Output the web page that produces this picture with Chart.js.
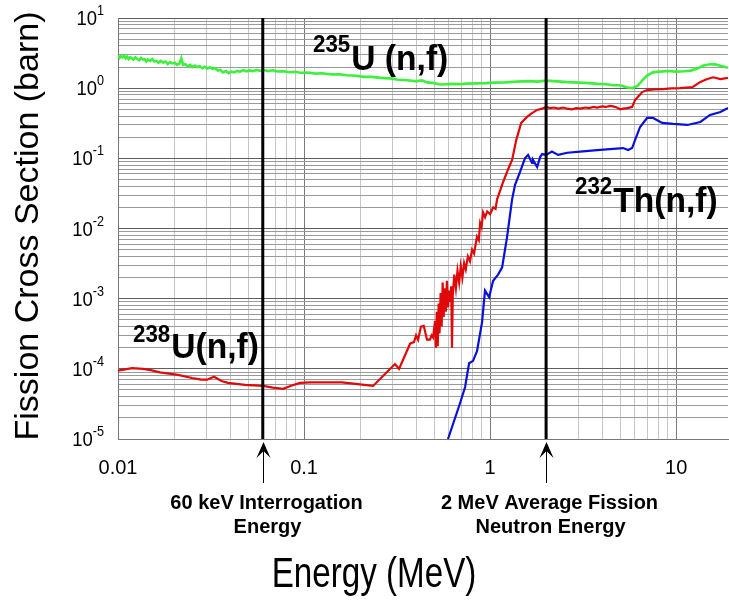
<!DOCTYPE html>
<html>
<head>
<meta charset="utf-8">
<script src="https://cdn.jsdelivr.net/npm/chart.js@4.4.1/dist/chart.umd.min.js"></script>
<style>
  html, body { margin: 0; padding: 0; background: #fff; overflow: hidden; }
  #wrap { width: 729px; height: 602px; }
</style>
</head>
<body>
<div id="wrap"><canvas id="xsChart" width="729" height="602"></canvas></div>
<script>
// axis ranges (MeV, barn)
const xMin = 0.01, xMax = 19;
const yMin = 1e-5, yMax = 10;

const xTickValues = [0.01, 0.1, 1, 10];
const xTickLabels = ["0.01", "0.1", "1", "10"];
const yTickValues = [1e-5, 1e-4, 1e-3, 1e-2, 1e-1, 1, 10];
const yTickExps = ["-5", "-4", "-3", "-2", "-1", "0", "1"];

const markerEnergies = [0.06, 2];
const markerLabels = [["60 keV Interrogation", "Energy"], ["2 MeV Average Fission", "Neutron Energy"]];

// [energy MeV, cross section barn]
const u235Points = [
  [0.0100, 2.95], [0.0102, 2.7], [0.0104, 2.85], [0.0106, 2.75], [0.0108, 2.9], [0.0110, 2.65],
  [0.0112, 2.8], [0.0114, 2.6], [0.0116, 2.75], [0.0118, 2.7], [0.0121, 2.55], [0.0124, 2.75],
  [0.0127, 2.6], [0.0130, 2.5], [0.0133, 2.7], [0.0136, 2.55], [0.0139, 2.6], [0.0142, 2.4],
  [0.0145, 2.55], [0.0149, 2.45], [0.0153, 2.6], [0.0157, 2.4], [0.0161, 2.45], [0.0165, 2.3],
  [0.0170, 2.45], [0.0175, 2.3], [0.0180, 2.4], [0.0185, 2.2], [0.0190, 2.35], [0.0196, 2.25],
  [0.0202, 2.3], [0.0208, 2.15], [0.0214, 2.25], [0.0219, 2.65], [0.0224, 2.15], [0.0230, 2.2],
  [0.0237, 2.05], [0.0244, 2.15], [0.0251, 2.0], [0.0259, 2.1], [0.0267, 2.0], [0.0275, 2.05],
  [0.0284, 1.92], [0.0293, 2.02], [0.0302, 1.9], [0.0312, 1.98], [0.0322, 1.88], [0.0333, 1.92],
  [0.0344, 1.78], [0.0355, 1.82], [0.0367, 1.68], [0.0380, 1.76], [0.0393, 1.64], [0.0407, 1.72],
  [0.0422, 1.68], [0.0437, 1.76], [0.0453, 1.72], [0.0470, 1.8], [0.0490, 1.74], [0.0510, 1.79],
  [0.0530, 1.75], [0.0555, 1.82], [0.0580, 1.77], [0.0610, 1.81], [0.0640, 1.75], [0.0680, 1.8],
  [0.0720, 1.73], [0.0770, 1.75], [0.0830, 1.69], [0.0900, 1.71], [0.0970, 1.65], [0.105, 1.67],
  [0.115, 1.61], [0.125, 1.63], [0.14, 1.57], [0.155, 1.58], [0.17, 1.53], [0.19, 1.5],
  [0.21, 1.45], [0.23, 1.45], [0.26, 1.4], [0.29, 1.38], [0.32, 1.32], [0.36, 1.3],
  [0.40, 1.25], [0.43, 1.29], [0.46, 1.21], [0.50, 1.18], [0.54, 1.13], [0.58, 1.14],
  [0.62, 1.15], [0.68, 1.14], [0.75, 1.16], [0.85, 1.17], [0.95, 1.18], [1.05, 1.2],
  [1.2, 1.21], [1.4, 1.24], [1.6, 1.26], [1.8, 1.24], [2.0, 1.28], [2.3, 1.25],
  [2.6, 1.22], [3.0, 1.2], [3.4, 1.18], [3.8, 1.15], [4.2, 1.14], [4.6, 1.1],
  [5.0, 1.1], [5.4, 1.03], [5.8, 1.0], [6.2, 1.08], [6.6, 1.3], [7.0, 1.52],
  [7.5, 1.68], [8.2, 1.72], [9.0, 1.76], [10, 1.72], [11, 1.74], [12, 1.78],
  [13, 1.9], [14, 2.1], [15, 2.18], [16, 2.2], [17.3, 2.08], [19, 1.95]
];

const u238Points = [
  [0.0100, 9.4e-5], [0.0119, 1.02e-4], [0.0136, 1.0e-4], [0.0150, 9.6e-5], [0.0168, 8.9e-5],
  [0.0210, 8.2e-5], [0.0250, 7.4e-5], [0.0280, 7.0e-5], [0.0301, 7.0e-5], [0.0328, 7.7e-5],
  [0.0360, 6.7e-5], [0.0390, 6.3e-5], [0.0482, 5.9e-5], [0.0602, 5.7e-5], [0.0680, 5.4e-5],
  [0.0771, 5.2e-5], [0.0860, 5.8e-5], [0.0951, 6.3e-5], [0.108, 6.4e-5], [0.160, 6.4e-5],
  [0.235, 5.7e-5], [0.308, 1.17e-4], [0.324, 1.0e-4], [0.372, 2.3e-4], [0.390, 2.4e-4],
  [0.400, 3.0e-4], [0.410, 2.6e-4], [0.425, 4.0e-4], [0.440, 4.1e-4], [0.458, 2.6e-4],
  [0.475, 2.6e-4], [0.485, 3.0e-4], [0.494, 2.8e-4], [0.506, 4.8e-4], [0.511, 2.0e-4],
  [0.517, 6.5e-4], [0.523, 2.1e-4], [0.529, 8.5e-4], [0.535, 3.2e-4], [0.542, 1.2e-3],
  [0.549, 4.0e-4], [0.556, 1.7e-3], [0.563, 5.5e-4], [0.570, 1.4e-3], [0.578, 6.5e-4],
  [0.586, 1.8e-3], [0.594, 7.5e-4], [0.602, 1.3e-3], [0.610, 9.0e-4], [0.618, 1.5e-3],
  [0.624, 2.0e-4], [0.630, 1.1e-3], [0.642, 2.2e-3], [0.655, 1.4e-3], [0.668, 2.5e-3],
  [0.682, 1.7e-3], [0.696, 2.9e-3], [0.710, 2.0e-3], [0.725, 3.2e-3], [0.740, 2.6e-3],
  [0.760, 4.0e-3], [0.780, 3.4e-3], [0.800, 5.0e-3], [0.820, 4.4e-3], [0.850, 7.6e-3],
  [0.870, 6.8e-3], [0.884, 1.2e-2], [0.900, 1.05e-2], [0.917, 1.7e-2], [0.940, 1.45e-2],
  [0.965, 1.75e-2], [1.000, 1.6e-2], [1.040, 2.0e-2], [1.070, 1.9e-2], [1.090, 2.6e-2],
  [1.130, 3.4e-2], [1.175, 4.6e-2], [1.250, 7.0e-2], [1.313, 9.5e-2], [1.380, 0.18],
  [1.470, 0.32], [1.580, 0.39], [1.680, 0.44], [1.790, 0.49], [1.900, 0.51],
  [2.000, 0.54], [2.100, 0.52], [2.200, 0.53], [2.330, 0.51], [2.470, 0.53],
  [2.600, 0.51], [2.750, 0.50], [2.900, 0.52], [3.050, 0.51], [3.250, 0.53],
  [3.400, 0.52], [3.600, 0.54], [3.760, 0.53], [4.000, 0.55], [4.200, 0.54],
  [4.400, 0.56], [4.580, 0.55], [4.800, 0.53], [5.000, 0.50], [5.200, 0.51],
  [5.460, 0.52], [5.800, 0.54], [6.020, 0.68], [6.570, 0.88], [6.980, 0.94],
  [7.600, 0.96], [8.510, 0.97], [9.400, 0.99], [10.50, 1.00], [11.40, 1.02],
  [12.30, 1.04], [13.50, 1.23], [14.60, 1.34], [15.80, 1.43], [17.30, 1.35],
  [19.00, 1.40]
];

const th232Points = [
  [0.594, 1.0e-5], [0.690, 3.26e-5], [0.734, 5.5e-5], [0.771, 1.2e-4], [0.810, 1.3e-4],
  [0.851, 1.8e-4], [0.905, 4.6e-4], [0.939, 1.3e-3], [0.988, 1.05e-3], [1.038, 1.8e-3],
  [1.104, 2.2e-3], [1.161, 2.8e-3], [1.234, 7.6e-3], [1.313, 2.6e-2], [1.362, 4.2e-2],
  [1.449, 6.4e-2], [1.540, 0.100], [1.600, 0.112], [1.680, 0.086], [1.700, 0.095],
  [1.790, 0.075], [1.860, 0.105], [1.905, 0.115], [2.000, 0.112], [2.150, 0.125],
  [2.320, 0.112], [2.600, 0.120], [3.050, 0.125], [3.760, 0.131], [4.580, 0.136],
  [5.190, 0.140], [5.520, 0.131], [5.800, 0.140], [6.020, 0.183], [6.400, 0.280],
  [6.980, 0.376], [7.520, 0.376], [8.410, 0.320], [9.640, 0.309], [11.50, 0.299],
  [13.50, 0.330], [15.20, 0.415], [17.30, 0.457], [19.00, 0.522]
];

const toXY = (pts) => pts.map(([x, y]) => ({ x, y }));

function gridValues(min, max) {
  const out = [];
  for (let p = Math.floor(Math.log10(min)); p <= Math.ceil(Math.log10(max)); p++) {
    for (let m = 1; m <= 9; m++) {
      const v = parseFloat((m * Math.pow(10, p)).toPrecision(6));
      if (v >= min * 0.999 && v <= max * 1.001) out.push(v);
    }
  }
  return out;
}
const isDecade = (v) => Math.abs(Math.log10(v) - Math.round(Math.log10(v))) < 1e-6;

function putText(ctx, str, x, y, font, align, sx) {
  ctx.save();
  ctx.font = font;
  ctx.textAlign = align;
  ctx.textBaseline = "alphabetic";
  ctx.translate(x, y);
  ctx.scale(sx, 1);
  ctx.fillText(str, 0, 0);
  ctx.restore();
}
function textWidth(ctx, str, font, sx) {
  ctx.save();
  ctx.font = font;
  const w = ctx.measureText(str).width * sx;
  ctx.restore();
  return w;
}
// superscript prefix + main text, left aligned
function isotopeLabel(ctx, sup, main, x, yMain, ySup) {
  const supFont = "bold 24px 'Liberation Sans', Arial, sans-serif";
  const mainFont = "bold 35px 'Liberation Sans', Arial, sans-serif";
  putText(ctx, sup, x, ySup, supFont, "left", 0.93);
  const w = textWidth(ctx, sup, supFont, 0.93);
  putText(ctx, main, x + w + 1, yMain, mainFont, "left", 0.96);
}

const textPlugin = {
  id: "textPlugin",
  afterDraw(chart) {
    const ctx = chart.ctx;
    const xs = chart.scales.x, ys = chart.scales.y;
    const area = chart.chartArea;
    ctx.save();
    ctx.fillStyle = "#000";
    ctx.strokeStyle = "#000";

    // y tick labels 10^n
    const baseFont = "21px 'Liberation Sans', Arial, sans-serif";
    const expFont = "14px 'Liberation Sans', Arial, sans-serif";
    yTickValues.forEach((v, i) => {
      const y = ys.getPixelForValue(v);
      const ew = textWidth(ctx, yTickExps[i], expFont, 0.9);
      const bw = textWidth(ctx, "10", baseFont, 0.88);
      putText(ctx, "10", 104 - ew - bw, y + 7, baseFont, "left", 0.88);
      putText(ctx, yTickExps[i], 104 - ew, y - 3, expFont, "left", 0.9);
    });

    // x tick labels
    xTickValues.forEach((v, i) => {
      putText(ctx, xTickLabels[i], xs.getPixelForValue(v), area.bottom + 35, "20px 'Liberation Sans', Arial, sans-serif", "center", 1);
    });

    // arrows and notes under the axis
    markerEnergies.forEach((e, i) => {
      const x = Math.round(xs.getPixelForValue(e)) + 0.5;
      ctx.lineWidth = 1;
      ctx.beginPath();
      ctx.moveTo(x, area.bottom + 8);
      ctx.lineTo(x, area.bottom + 44);
      ctx.stroke();
      ctx.beginPath();
      ctx.moveTo(x, area.bottom + 3);
      ctx.lineTo(x + 7, area.bottom + 19);
      ctx.lineTo(x, area.bottom + 12);
      ctx.lineTo(x - 7, area.bottom + 19);
      ctx.closePath();
      ctx.fill();
      const bold = "bold 20px 'Liberation Sans', Arial, sans-serif";
      putText(ctx, markerLabels[i][0], x + 3, area.bottom + 70, bold, "center", 1);
      putText(ctx, markerLabels[i][1], x + 4, area.bottom + 94, bold, "center", 1);
    });

    // series labels
    isotopeLabel(ctx, "235", "U (n,f)", 313, 70, 52);
    isotopeLabel(ctx, "238", "U(n,f)", 133, 358, 342);
    isotopeLabel(ctx, "232", "Th(n,f)", 575, 212, 194);

    // axis titles
    putText(ctx, "Energy (MeV)", 374, 587, "42px 'Liberation Sans', Arial, sans-serif", "center", 0.79);
    ctx.save();
    ctx.translate(38, 226);
    ctx.rotate(-Math.PI / 2);
    ctx.font = "34px 'Liberation Sans', Arial, sans-serif";
    ctx.textAlign = "center";
    ctx.textBaseline = "alphabetic";
    ctx.fillText("Fission Cross Section (barn)", 0, 0);
    ctx.restore();

    ctx.restore();
  }
};

const lineStyle = { showLine: true, pointRadius: 0, fill: false, tension: 0 };

const markerSets = markerEnergies.map((e) => ({
  ...lineStyle,
  data: [{ x: e, y: yMin }, { x: e, y: yMax }],
  borderColor: "#000",
  borderWidth: 3,
}));

new Chart(document.getElementById("xsChart"), {
  type: "scatter",
  data: {
    datasets: [
      ...markerSets,
      { ...lineStyle, label: "232Th(n,f)", data: toXY(th232Points), borderColor: "#0a10d8", borderWidth: 2.2 },
      { ...lineStyle, label: "238U(n,f)", data: toXY(u238Points), borderColor: "#e00808", borderWidth: 2.2 },
      { ...lineStyle, label: "235U(n,f)", data: toXY(u235Points), borderColor: "#3cf03c", borderWidth: 2.6 },
    ],
  },
  options: {
    responsive: false,
    animation: false,
    devicePixelRatio: 1,
    events: [],
    layout: { padding: { left: 118, right: 1, top: 18, bottom: 163 } },
    plugins: { legend: { display: false }, tooltip: { enabled: false } },
    scales: {
      x: {
        type: "logarithmic",
        min: xMin,
        max: xMax,
        afterBuildTicks: (s) => { s.ticks = gridValues(xMin, xMax).map((v) => ({ value: v })); },
        ticks: { display: false },
        grid: { drawTicks: false, lineWidth: 1, color: (c) => (c.tick && isDecade(c.tick.value) ? "#7a7a7a" : "#c6c6c6") },
        border: { color: "#777", width: 1 },
      },
      y: {
        type: "logarithmic",
        min: yMin,
        max: yMax,
        afterBuildTicks: (s) => { s.ticks = gridValues(yMin, yMax).map((v) => ({ value: v })); },
        ticks: { display: false },
        grid: { drawTicks: false, lineWidth: 1, color: (c) => (c.tick && isDecade(c.tick.value) ? "#5e5e5e" : "#9a9a9a") },
        border: { color: "#777", width: 1 },
      },
    },
  },
  plugins: [textPlugin],
});
</script>
</body>
</html>
